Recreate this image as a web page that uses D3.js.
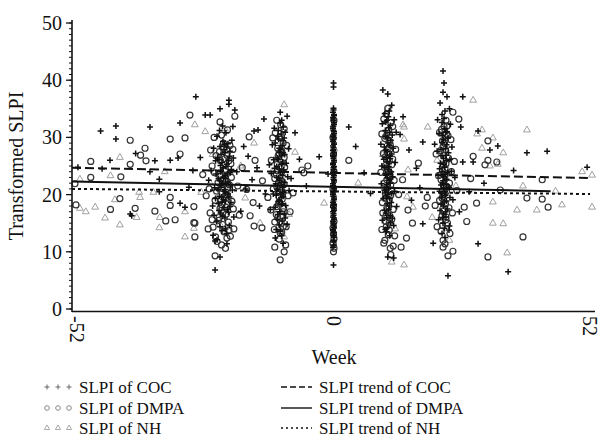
<!DOCTYPE html>
<html>
<head>
<meta charset="utf-8">
<script src="https://cdn.jsdelivr.net/npm/d3@7/dist/d3.min.js"></script>
<style>
	body { margin: 0; background: #fff; }
	svg text { font-family: "Liberation Serif", "Times New Roman", Times, "DejaVu Serif", serif; fill: #111; }
</style>
</head>
<body>
<svg id="chart" width="602" height="438"></svg>
<script>
(function () {
	// x tick labels and y ticks
	var weekTicks = [-52, 0, 52];
	var slpiTicks = [0, 10, 20, 30, 40, 50];

	// [week, transformed SLPI]
	var cocPoints = [
		[-47.2,31.1],[-44.1,32.0],[-44.1,29.7],[-37.2,31.8],[-40.1,27.2],[-45.3,26.0],[-36.2,25.9],[-33.1,26.0],[-31.5,26.4],[-37.2,24.0],
		[-51.8,24.8],[-46.9,24.5],[-35.3,22.7],[-41.2,16.6],[-40.9,16.3],[-31.1,18.5],[-30.1,17.8],[-31.1,32.5],[-35.3,20.5],[-27.9,37.1],
		[-29.3,21.3],[-26.0,33.9],[-28.5,24.2],[-27.0,26.5],
		[-21.2,36.5],[-21.2,35.8],[-23.0,35.0],[-20.0,34.8],[-25.0,33.9],[-22.5,32.0],[-21.8,30.8],[-23.6,30.2],[-20.6,29.5],[-22.1,28.8],
		[-24.3,28.1],[-21.0,27.6],[-22.8,27.0],[-20.3,26.4],[-23.9,25.9],[-21.6,25.3],[-22.4,24.7],[-24.8,24.2],[-20.9,23.8],[-22.0,23.3],
		[-23.3,22.8],[-21.4,22.2],[-22.7,21.7],[-24.1,21.2],[-20.5,20.8],[-21.9,20.3],[-23.1,19.7],[-22.3,19.1],[-20.8,18.6],[-24.5,18.0],
		[-21.5,17.4],[-22.9,16.8],[-20.2,16.1],[-23.7,15.3],[-21.1,14.6],[-22.6,13.7],[-24.4,12.9],[-23.6,12.1],[-21.6,11.4],[-23.0,9.1],
		[-24.0,6.8],[-24.0,11.9],[-25.3,22.5],[-19.6,24.0],
		[-22.2,27.9],[-23.5,26.5],[-21.3,26.0],[-22.9,25.1],[-20.7,24.4],[-23.8,23.6],[-21.9,22.9],[-22.5,22.0],[-20.9,21.5],[-23.4,20.9],
		[-22.1,20.6],[-21.2,19.6],[-23.9,19.3],[-22.6,18.7],[-21.0,17.9],[-23.2,17.2],[-22.0,15.9],[-24.2,16.4],[-21.7,13.2],[-22.8,24.2],
		[-21.6,28.3],[-23.1,31.2],[-20.4,31.9],
		[-22.4,29.3],[-21.4,28.9],[-23.0,28.4],[-22.0,27.3],[-21.1,26.7],[-23.2,26.1],[-22.6,25.6],[-21.8,24.9],[-22.9,24.0],[-21.5,23.6],
		[-22.3,23.0],[-23.1,22.4],[-21.8,21.9],[-22.8,21.3],[-22.0,20.9],[-21.4,20.1],[-22.7,19.6],[-21.9,18.9],[-23.3,18.4],[-22.2,17.7],
		[-21.3,16.9],[-22.5,16.2],[-23.0,14.4],[-21.9,14.0],
		[-16.1,31.1],[-15.3,31.3],[-17.3,26.7],[-15.5,24.7],[-14.1,33.2],[-18.2,28.4],[-16.5,22.6],[-17.8,21.0],[-13.8,20.1],[-15.0,18.0],[-18.8,17.1],
		[-10.8,34.4],[-9.4,33.7],[-10.8,32.5],[-12.0,31.6],[-9.8,30.9],[-11.3,30.2],[-10.2,29.4],[-12.4,28.7],[-9.1,28.0],[-11.0,27.4],
		[-10.5,26.8],[-12.1,26.1],[-9.6,25.5],[-11.5,24.9],[-10.1,24.3],[-12.6,23.7],[-9.3,23.1],[-10.9,22.5],[-11.7,21.9],[-10.3,21.3],
		[-9.0,20.7],[-12.2,20.1],[-10.6,19.5],[-11.2,18.8],[-9.7,18.1],[-12.8,17.4],[-10.0,16.6],[-11.4,15.7],[-9.4,14.8],[-10.8,13.6],
		[-10.2,11.5],[-11.8,12.4],[-8.6,22.8],[-13.0,25.2],
		[-10.5,33.0],[-11.2,31.2],[-10.0,29.9],[-11.8,29.0],[-10.7,27.9],[-9.9,27.0],[-11.4,26.4],[-10.3,25.7],[-11.9,24.6],[-10.7,23.9],
		[-9.9,22.1],[-11.3,21.6],[-10.1,20.4],[-11.6,19.9],[-10.4,18.4],[-11.8,17.8],[-10.9,17.0],[-9.8,15.9],[-11.0,14.7],[-10.5,12.8],
		[-10.2,31.8],[-11.5,23.0],
		[-10.6,30.6],[-11.1,29.7],[-10.4,28.6],[-11.0,28.1],[-10.2,27.3],[-11.2,26.1],[-10.5,25.3],[-11.0,24.4],[-10.3,23.4],[-11.1,22.9],
		[-10.6,22.1],[-10.0,21.6],[-11.4,20.9],[-10.8,20.2],[-10.2,19.7],[-11.0,19.0],[-10.5,18.3],[-11.3,16.5],[-10.4,15.4],[-11.6,13.9],
		[-7.8,30.8],[-6.9,26.2],[-5.5,21.5],[-2.9,26.6],[-1.1,23.6],
		[0,39.5],[0,38.8],[0,35.1],[-0.1,34.4],[0.1,33.8],[0,33.2],[0.1,32.6],[0,32.0],[-0.1,31.5],[0.1,31.0],
		[0,30.4],[0.1,29.9],[-0.1,29.3],[0.1,28.8],[0,28.2],[-0.1,27.7],[0.1,27.1],[0,26.6],[0.1,26.0],[-0.1,25.5],
		[0.1,24.9],[0,24.4],[-0.1,23.8],[0.1,23.3],[0,22.7],[0.1,22.2],[-0.1,21.6],[0.1,21.1],[0,20.5],[-0.1,20.0],
		[0.1,19.4],[0,18.9],[0.1,18.3],[-0.1,17.8],[0.1,17.2],[0,16.7],[-0.1,16.1],[0.1,15.6],[0,15.0],[0.1,14.5],
		[-0.1,13.9],[0.1,13.4],[0,12.8],[0,12.0],[0.1,11.2],[0,7.7],
		[0,34.8],[0.1,34.0],[-0.1,33.5],[0,32.9],[0.1,32.3],[-0.1,31.8],[0,31.2],[0.1,30.7],[-0.1,30.1],[0,29.6],
		[0.1,29.0],[-0.1,28.5],[0,27.9],[0.1,27.4],[-0.1,26.8],[0,26.3],[0.1,25.7],[-0.1,25.2],[0,24.7],[0.1,24.1],
		[-0.1,23.6],[0,23.0],[0.1,22.5],[-0.1,21.9],[0,21.4],[0.1,20.8],[-0.1,20.3],[0,19.7],[0.1,19.2],[-0.1,18.6],
		[0,18.1],[0.1,17.5],[-0.1,17.0],[0,16.4],[0.1,15.9],[-0.1,15.3],[0,14.8],[0.1,14.2],[-0.1,13.7],[0,13.1],
		[0.1,12.5],[0,11.7],[-0.1,10.8],
		[3.1,31.8],[6.2,23.8],[4.5,28.4],[7.5,20.2],
		[10.0,38.3],[11.0,37.6],[11.8,35.6],[10.4,34.2],[12.3,33.1],[9.9,32.4],[11.2,31.7],[12.7,30.9],[10.6,30.2],[11.6,29.5],
		[9.6,28.8],[12.1,28.1],[10.9,27.5],[11.4,26.8],[10.2,26.2],[12.5,25.6],[9.8,25.0],[11.1,24.4],[10.5,23.7],[12.0,23.1],
		[11.3,22.5],[9.7,21.9],[10.8,21.3],[12.4,20.6],[11.0,20.0],[10.1,19.3],[11.7,18.6],[12.8,17.9],[10.4,17.2],[11.5,16.4],
		[9.9,15.5],[12.2,14.6],[10.7,13.5],[11.0,9.1],[12.2,8.9],[13.5,30.5],[14.1,33.6],[15.3,27.8],
		[11.3,34.6],[10.8,33.0],[11.5,32.1],[10.5,31.2],[11.9,30.4],[11.0,29.0],[10.3,28.3],[11.8,27.1],[10.7,26.5],[11.2,25.4],
		[10.4,24.8],[11.7,24.0],[10.9,22.9],[11.5,22.0],[10.3,20.8],[11.8,20.2],[10.7,19.6],[11.3,18.0],[10.6,16.8],[11.9,15.8],
		[10.9,14.2],[11.4,12.8],
		[11.1,33.6],[10.6,32.7],[11.4,30.9],[10.9,30.0],[11.3,28.6],[10.6,27.8],[11.5,26.3],[10.9,25.8],[11.2,24.9],[10.6,23.4],
		[11.4,22.7],[10.8,21.8],[11.1,21.0],[10.5,20.3],[11.4,19.3],[10.9,18.4],[11.2,17.4],[10.8,16.0],[11.5,15.1],[10.5,13.9],
		[18.1,29.2],[18.1,14.9],[20.2,11.5],[16.8,24.6],[17.5,21.2],[15.8,19.0],
		[22.2,41.6],[22.4,39.5],[22.2,37.9],[23.0,37.1],[21.6,36.0],[23.5,35.0],[22.0,34.0],[21.1,33.1],[23.7,32.3],[22.6,31.5],
		[21.4,30.7],[23.2,29.9],[22.0,29.1],[24.0,28.3],[21.0,27.6],[22.8,26.9],[23.6,26.2],[21.7,25.5],[22.5,24.8],[23.9,24.1],
		[21.2,23.4],[22.9,22.7],[22.1,22.0],[23.4,21.3],[21.5,20.6],[22.7,19.9],[24.2,19.1],[21.8,18.3],[23.1,17.5],[22.3,16.6],
		[21.3,15.6],[23.5,14.5],[22.0,13.2],[23.2,5.8],[20.5,28.8],[24.6,23.0],
		[22.4,33.3],[23.0,31.0],[22.1,30.3],[22.9,28.7],[21.8,27.9],[23.3,27.3],[22.3,26.3],[21.5,24.5],[23.1,23.8],[22.4,23.1],
		[21.8,21.7],[23.0,20.9],[22.0,20.2],[23.6,19.5],[22.5,18.7],[21.6,17.2],[22.8,16.1],[22.2,15.0],[23.4,13.8],[22.6,12.5],
		[22.6,34.6],[22.0,32.6],[22.8,30.9],[22.3,29.6],[22.7,28.0],[22.0,26.8],[22.9,25.9],[22.4,25.3],[22.0,24.0],[22.7,23.5],
		[22.2,22.4],[22.8,21.8],[22.3,21.1],[22.6,20.5],[21.9,19.5],[22.9,18.9],[22.3,18.0],[22.7,17.0],[22.1,16.0],[22.5,14.1],
		[26.2,37.1],[25.8,31.8],[29.3,31.1],[33.3,28.5],[31.7,27.8],[39.2,27.3],[43.3,27.6],[28.3,25.7],[26.2,25.7],[51.4,24.8],
		[29.3,11.4],[35.4,6.5],[27.5,20.5],[30.5,22.0],[25.5,17.0],[36.5,24.2]
	];

	var dmpaPoints = [
		[-29.1,33.9],[-41.2,29.5],[-38.2,28.1],[-30.1,29.9],[-33.1,29.7],[-39.1,26.9],[-49.2,25.8],[-38.0,25.9],[-41.2,25.3],[-31.1,27.1],
		[-49.2,23.0],[-43.1,23.1],[-52.4,21.9],[-52.2,18.2],[-43.3,19.3],[-45.2,17.4],[-40.2,17.6],[-36.2,17.1],[-34.0,15.4],[-32.1,15.6],
		[-33.1,19.5],[-33.1,18.1],[-28.3,17.9],[-28.3,15.1],[-28.1,12.6],[-28.1,15.0],[-25.4,14.0],
		[-20.0,33.7],[-23.0,32.7],[-21.5,31.3],[-24.2,30.0],[-22.3,29.0],[-20.4,27.9],[-23.8,26.8],[-21.2,25.9],[-24.6,25.0],[-22.0,24.1],
		[-20.7,23.0],[-23.4,22.1],[-25.2,21.0],[-21.8,20.0],[-24.0,19.0],[-22.6,18.2],[-20.3,17.5],[-25.0,16.8],[-23.2,16.0],[-21.3,15.2],
		[-24.4,14.3],[-22.2,13.5],[-20.9,12.7],[-23.6,11.8],[-24.0,9.3],[-21.9,10.6],[-25.8,19.8],[-26.5,23.5],[-19.4,21.5],
		[-22.7,30.4],[-21.0,28.6],[-23.1,27.5],[-22.0,26.3],[-20.8,25.4],[-24.1,23.8],[-22.4,22.7],[-21.1,21.7],[-23.7,20.6],[-22.1,19.5],
		[-20.6,18.8],[-23.0,17.6],[-21.7,16.6],[-24.6,15.6],[-22.5,14.8],[-21.2,13.8],[-23.9,12.6],[-22.7,11.2],[-20.2,14.0],[-24.9,27.8],
		[-22.3,28.0],[-21.6,26.9],[-22.9,25.9],[-21.9,24.4],[-23.0,23.2],[-21.7,22.3],[-22.6,21.1],[-21.5,19.9],[-22.9,19.0],[-21.8,17.8],
		[-22.4,16.9],[-23.3,15.5],[-21.6,12.4],
		[-17.1,30.1],[-18.5,24.7],[-19.1,16.4],[-16.9,16.3],[-16.1,14.5],[-14.5,14.2],[-15.9,26.0],[-17.6,20.9],[-14.4,22.4],[-16.3,18.6],
		[-11.5,33.0],[-10.0,31.5],[-12.3,29.9],[-9.5,28.6],[-11.0,27.2],[-12.6,26.0],[-9.9,24.8],[-11.6,23.5],[-10.4,22.3],[-12.2,21.0],
		[-9.2,19.8],[-11.1,18.5],[-12.7,17.3],[-10.3,16.2],[-11.9,15.2],[-9.6,14.4],[-10.8,13.3],[-11.9,10.8],[-10.8,8.6],[-10.0,10.0],
		[-10.2,14.4],[-8.2,20.3],[-6.4,24.3],[-13.3,19.5],[-8.8,17.0],
		[-10.7,32.2],[-11.8,30.8],[-10.2,29.0],[-11.3,28.1],[-10.0,26.5],[-11.4,25.3],[-10.5,24.0],[-11.9,22.8],[-10.0,21.8],[-11.2,20.6],
		[-10.4,19.2],[-11.5,17.9],[-10.2,17.0],[-11.3,16.0],[-10.6,14.9],[-11.0,12.2],[-9.7,11.2],[-12.0,13.9],
		[-10.9,30.0],[-10.5,27.6],[-11.2,26.8],[-10.6,25.0],[-11.4,24.2],[-10.8,22.6],[-11.5,21.4],[-10.3,20.5],[-11.0,19.6],[-10.9,18.6],
		[-10.1,17.6],[-11.6,16.5],[-10.5,13.4],
		[-5.2,25.0],[-6.0,23.8],[3.1,26.0],[0,10.0],[0.1,10.6],[-0.1,11.5],[0.1,12.3],[0,13.1],[-0.1,14.2],[0.1,15.3],
		[0,18.0],[-0.1,21.0],[0.1,24.0],[0,27.0],[-0.1,30.0],[0.1,33.0],
		[11.0,35.1],[10.2,33.2],[12.0,31.9],[9.8,30.6],[11.4,29.3],[12.6,27.9],[10.5,26.6],[11.8,25.2],[9.6,23.9],[12.3,22.5],
		[10.9,21.2],[11.6,19.9],[9.9,18.6],[12.1,17.4],[10.6,16.2],[11.3,15.0],[9.8,13.9],[12.4,12.8],[10.2,11.5],[11.5,10.6],
		[15.1,17.3],[14.8,12.4],[13.7,10.8],[14.0,22.6],[13.2,20.0],
		[10.7,34.0],[11.6,32.6],[10.4,29.8],[11.1,28.1],[10.1,27.2],[12.0,26.2],[10.8,24.6],[11.3,23.3],[10.3,22.0],[11.7,20.8],
		[10.5,19.4],[11.2,18.0],[10.0,16.8],[11.8,15.7],[10.7,14.4],[11.1,13.0],[10.4,12.0],[12.1,11.0],[11.6,9.5],
		[11.2,31.3],[10.6,30.2],[11.5,28.7],[10.9,27.4],[11.3,25.9],[10.6,25.1],[11.4,23.8],[10.8,22.6],[11.6,21.7],[10.5,20.3],
		[11.3,19.0],[10.8,17.6],[11.4,16.3],[10.6,15.3],[11.3,13.8],
		[19.0,19.5],[18.6,18.0],[17.2,25.5],[16.0,15.0],
		[24.2,34.4],[25.4,33.2],[23.0,32.0],[21.5,30.9],[23.8,29.6],[22.2,28.4],[20.8,27.1],[24.5,25.8],[22.6,24.6],[21.3,23.3],
		[23.5,22.0],[25.0,20.7],[22.0,19.4],[20.6,18.1],[24.1,16.8],[22.8,15.6],[21.0,14.4],[23.6,13.2],[22.2,12.0],[22.2,10.8],
		[24.2,10.1],[23.2,9.3],[26.5,17.8],[27.0,15.3],
		[22.8,33.0],[21.9,31.4],[23.2,30.3],[22.5,29.0],[21.7,27.7],[23.3,26.4],[22.2,25.2],[23.9,24.0],[21.8,22.6],[23.0,21.4],
		[22.4,20.1],[21.5,19.0],[23.4,17.7],[22.0,16.3],[23.1,15.0],[21.8,13.6],[22.6,11.4],
		[22.4,31.9],[22.9,30.6],[22.1,29.4],[22.7,27.9],[22.3,26.8],[22.8,25.4],[22.1,24.2],[22.6,23.3],[22.3,21.7],[22.9,20.6],
		[22.2,19.7],[22.7,18.4],[22.4,17.2],[22.8,16.1],[22.1,14.6],
		[31.3,29.4],[31.3,26.0],[30.7,25.2],[33.1,25.7],[28.3,26.7],[42.3,22.6],[39.2,19.4],[42.3,19.2],[43.5,17.8],[38.4,12.6],
		[31.3,9.1],[29.0,18.5],[33.8,20.8],[27.8,22.8]
	];

	var nhPoints = [
		[-28.1,32.2],[-43.3,26.5],[-45.2,23.3],[-51.4,22.7],[-34.2,24.0],[-39.4,20.4],[-39.2,19.5],[-44.3,19.1],[-36.5,20.4],[-48.3,17.8],
		[-51.4,17.6],[-50.2,17.0],[-46.3,15.9],[-43.3,14.7],[-39.9,16.0],[-35.2,16.0],[-35.3,14.2],[-30.1,12.6],[-30.1,17.0],[-28.3,14.1],
		[-26.0,31.0],[-25.0,22.0],
		[-22.0,31.5],[-24.5,27.0],[-20.5,19.0],[-23.0,14.8],[-16.1,29.0],[-17.9,19.4],[-14.9,15.0],[-10.0,35.7],[-10.0,12.6],[-7.8,27.4],
		[-12.5,24.0],[-9.0,16.5],[-26.8,20.4],[-18.8,25.0],
		[-1.9,18.5],[0,20.0],[0.2,28.0],[5.0,22.0],
		[11.0,35.1],[14.3,29.7],[14.3,31.8],[14.9,19.6],[16.1,17.8],[15.1,24.3],[14.3,7.7],[11.8,8.2],[12.5,14.0],[10.0,27.0],
		[19.1,31.8],[14.1,32.2],[21.0,26.0],[24.8,21.5],[20.0,16.0],[23.5,12.0],
		[28.3,36.5],[29.1,30.6],[32.3,29.9],[34.4,27.3],[30.1,28.1],[39.2,31.3],[33.3,25.3],[31.7,25.0],[50.4,24.0],[52.4,23.4],
		[38.4,21.5],[37.2,17.3],[41.2,17.3],[46.3,18.2],[52.4,17.8],[32.3,18.7],[34.4,14.9],[32.3,15.0],[35.2,9.8],[30.1,31.3],
		[45.0,20.6]
	];

	// fitted trend end points
	var cocTrend = [[-53, 24.7], [52, 22.9]];
	var dmpaTrend = [[-53, 22.3], [44, 20.6]];
	var nhTrend = [[-53, 21.0], [52, 20.1]];

	var pointLabels = ['SLPI of COC', 'SLPI of DMPA', 'SLPI of NH'];
	var trendLabels = ['SLPI trend of COC', 'SLPI trend of DMPA', 'SLPI trend of NH'];

	var fontStack = '"Liberation Serif", "Times New Roman", Times, "DejaVu Serif", serif';
	var svg = d3.select('#chart').attr('font-family', fontStack);

	var x = d3.scaleLinear().domain([-53, 53]).range([72, 595]);
	var y = d3.scaleLinear().domain([0, 50]).range([309, 23]);

	var cocColor = '#111', dmpaColor = '#333', nhColor = '#a0a0a0';

	var plusPath = function(s) { return 'M' + (-s) + ',0H' + s + 'M0,' + (-s) + 'V' + s; };
	var triPath = d3.symbol().type(d3.symbolTriangle).size(20);

	// NH triangles
	svg.append('g').selectAll('path')
		.data(nhPoints)
		.enter()
		.append('path')
		.attr('d', triPath)
		.attr('transform', d => 'translate(' + x(d[0]) + ',' + y(d[1]) + ')')
		.attr('fill', 'none')
		.attr('stroke', nhColor)
		.attr('stroke-width', 1);

	// DMPA circles
	svg.append('g').selectAll('circle')
		.data(dmpaPoints)
		.enter()
		.append('circle')
		.attr('cx', d => x(d[0]))
		.attr('cy', d => y(d[1]))
		.attr('r', 3)
		.attr('fill', 'none')
		.attr('stroke', dmpaColor)
		.attr('stroke-width', 1.2);

	// COC plus signs
	svg.append('g').selectAll('path')
		.data(cocPoints)
		.enter()
		.append('path')
		.attr('d', plusPath(3))
		.attr('transform', d => 'translate(' + x(d[0]) + ',' + y(d[1]) + ')')
		.attr('fill', 'none')
		.attr('stroke', cocColor)
		.attr('stroke-width', 1.5);

	// trend lines
	var line = d3.line().x(d => x(d[0])).y(d => y(d[1]));
	var trends = [
		{ data: cocTrend, dash: '9,4' },
		{ data: dmpaTrend, dash: null },
		{ data: nhTrend, dash: '3,3' }
	];
	trends.forEach(function(t) {
		svg.append('path')
			.datum(t.data)
			.attr('d', line)
			.attr('fill', 'none')
			.attr('stroke', '#111')
			.attr('stroke-width', 2)
			.attr('stroke-dasharray', t.dash);
	});

	// y axis with minor ticks
	var yAxis = svg.append('g');
	yAxis.append('line')
		.attr('x1', 72).attr('x2', 72)
		.attr('y1', 20).attr('y2', 312)
		.attr('stroke', '#111').attr('stroke-width', 1.6);
	yAxis.selectAll('.minor')
		.data(y.ticks(50))
		.enter()
		.append('line')
		.attr('x1', 69).attr('x2', 72)
		.attr('y1', d => y(d)).attr('y2', d => y(d))
		.attr('stroke', '#111').attr('stroke-width', 1);
	yAxis.selectAll('.major')
		.data(slpiTicks)
		.enter()
		.append('line')
		.attr('x1', 66).attr('x2', 72)
		.attr('y1', d => y(d)).attr('y2', d => y(d))
		.attr('stroke', '#111').attr('stroke-width', 1.3);
	yAxis.selectAll('text')
		.data(slpiTicks)
		.enter()
		.append('text')
		.attr('x', 62)
		.attr('y', d => y(d))
		.attr('dy', '0.35em')
		.attr('text-anchor', 'end')
		.style('font-size', '20px')
		.text(d => d);

	// x axis
	var xAxis = svg.append('g');
	xAxis.append('line')
		.attr('x1', 72).attr('x2', 595)
		.attr('y1', 311.5).attr('y2', 311.5)
		.attr('stroke', '#111').attr('stroke-width', 1.6);
	xAxis.selectAll('text')
		.data(weekTicks)
		.enter()
		.append('text')
		.attr('transform', d => 'translate(' + x(d) + ',316) rotate(90)')
		.attr('dy', '0.35em')
		.attr('text-anchor', 'start')
		.style('font-size', '20px')
		.text(d => d);

	svg.append('text')
		.attr('x', 334)
		.attr('y', 364)
		.attr('text-anchor', 'middle')
		.style('font-size', '20px')
		.text('Week');

	svg.append('text')
		.attr('transform', 'translate(23,166) rotate(-90)')
		.attr('text-anchor', 'middle')
		.style('font-size', '20px')
		.text('Transformed SLPI');

	// legend
	var rowY = [387, 408, 428];
	var legend = svg.append('g');
	var symX = [47, 58, 69];

	legend.selectAll('.lp')
		.data(symX)
		.enter()
		.append('path')
		.attr('d', plusPath(2.5))
		.attr('transform', d => 'translate(' + d + ',' + rowY[0] + ')')
		.attr('stroke', '#666').attr('stroke-width', 1);
	legend.selectAll('.lc')
		.data(symX)
		.enter()
		.append('circle')
		.attr('cx', d => d).attr('cy', rowY[1])
		.attr('r', 2.3)
		.attr('fill', 'none')
		.attr('stroke', '#888').attr('stroke-width', 1);
	legend.selectAll('.lt')
		.data(symX)
		.enter()
		.append('path')
		.attr('d', d3.symbol().type(d3.symbolTriangle).size(12))
		.attr('transform', d => 'translate(' + d + ',' + rowY[2] + ')')
		.attr('fill', 'none')
		.attr('stroke', '#aaa').attr('stroke-width', 1);

	legend.selectAll('.ptext')
		.data(pointLabels)
		.enter()
		.append('text')
		.attr('x', 79)
		.attr('y', (d, i) => rowY[i])
		.attr('dy', '0.35em')
		.style('font-size', '17px')
		.text(d => d);

	legend.selectAll('.tline')
		.data(trends)
		.enter()
		.append('line')
		.attr('x1', 281).attr('x2', 312)
		.attr('y1', (d, i) => rowY[i]).attr('y2', (d, i) => rowY[i])
		.attr('stroke', '#111')
		.attr('stroke-width', 1.4)
		.attr('stroke-dasharray', (d, i) => i == 0 ? '6,3' : (i == 2 ? '2,3' : null));

	legend.selectAll('.ttext')
		.data(trendLabels)
		.enter()
		.append('text')
		.attr('x', 319)
		.attr('y', (d, i) => rowY[i])
		.attr('dy', '0.35em')
		.style('font-size', '17px')
		.text(d => d);
}());
</script>
</body>
</html>
